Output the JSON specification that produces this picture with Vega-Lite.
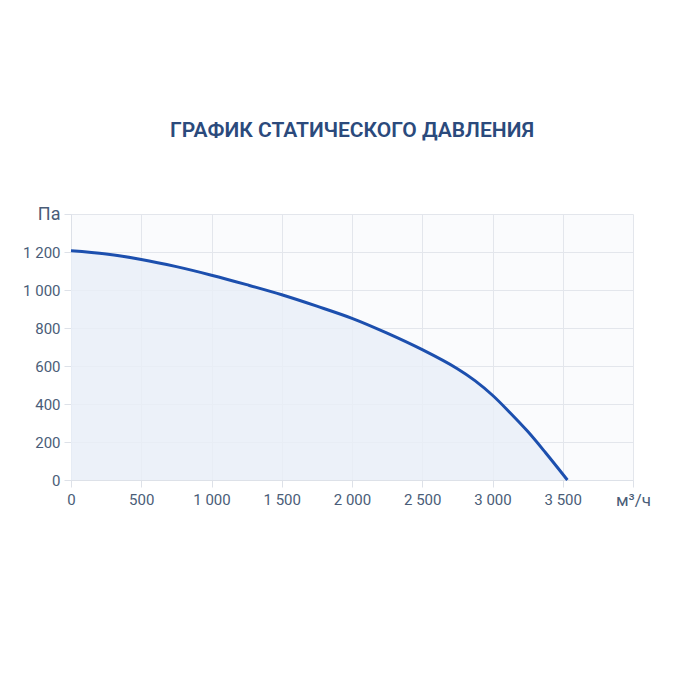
{
  "$schema": "https://vega.github.io/schema/vega-lite/v6.json",
  "width": 562,
  "height": 266,
  "autosize": {"type": "none"},
  "padding": {"left": 71, "top": 214, "right": 67, "bottom": 220},
  "background": "#ffffff",
  "config": {
    "font": "Roboto",
    "view": {"stroke": null, "fill": "#fafbfd"}
  },
  "title": {
    "text": "ГРАФИК СТАТИЧЕСКОГО ДАВЛЕНИЯ",
    "font": "Roboto",
    "fontSize": 21,
    "fontWeight": 600,
    "color": "#2b4a7c",
    "anchor": "middle",
    "offset": 64
  },
  "data": {
    "values": [
      {"q": 0, "p": 1207},
      {"q": 250, "p": 1190},
      {"q": 500, "p": 1161},
      {"q": 750, "p": 1123},
      {"q": 1000, "p": 1078},
      {"q": 1250, "p": 1028},
      {"q": 1500, "p": 975},
      {"q": 1750, "p": 915},
      {"q": 2000, "p": 851},
      {"q": 2250, "p": 773},
      {"q": 2500, "p": 686},
      {"q": 2750, "p": 586},
      {"q": 2875, "p": 523},
      {"q": 3000, "p": 446},
      {"q": 3125, "p": 354},
      {"q": 3250, "p": 256},
      {"q": 3375, "p": 146},
      {"q": 3533, "p": 0}
    ]
  },
  "encoding": {
    "x": {
      "field": "q", "type": "quantitative",
      "scale": {"domain": [0, 4000], "nice": false},
      "axis": {
        "values": [0, 500, 1000, 1500, 2000, 2500, 3000, 3500, 4000],
        "title": null,
        "grid": true, "gridColor": "#e3e6ec",
        "domainColor": "#dde1e8", "tickColor": "#dde1e8", "tickSize": 7,
        "labelFlush": false,
        "labelFontSize": {"condition": {"test": "datum.value == 4000", "value": 17}, "value": 15},
        "labelColor": "#4a5d78", "labelPadding": 5,
        "labelExpr": "datum.value == 4000 ? 'м³/ч' : replace(format(datum.value, ','), ',', ' ')"
      }
    },
    "y": {
      "field": "p", "type": "quantitative",
      "scale": {"domain": [0, 1400], "nice": false},
      "axis": {
        "values": [0, 200, 400, 600, 800, 1000, 1200, 1400],
        "title": null,
        "grid": true, "gridColor": "#e3e6ec",
        "domainColor": "#dde1e8", "tickColor": "#dde1e8", "tickSize": 7,
        "labelFlush": false,
        "labelFontSize": {"condition": {"test": "datum.value == 1400", "value": 18}, "value": 15},
        "labelColor": "#4a5d78", "labelPadding": 4,
        "labelExpr": "datum.value == 1400 ? 'Па' : replace(format(datum.value, ','), ',', ' ')"
      }
    }
  },
  "layer": [
    {"mark": {"type": "area", "interpolate": "catmull-rom", "color": "#e9eff8", "opacity": 0.8}},
    {"mark": {"type": "line", "interpolate": "catmull-rom", "color": "#1c4fae", "strokeWidth": 3}}
  ]
}
